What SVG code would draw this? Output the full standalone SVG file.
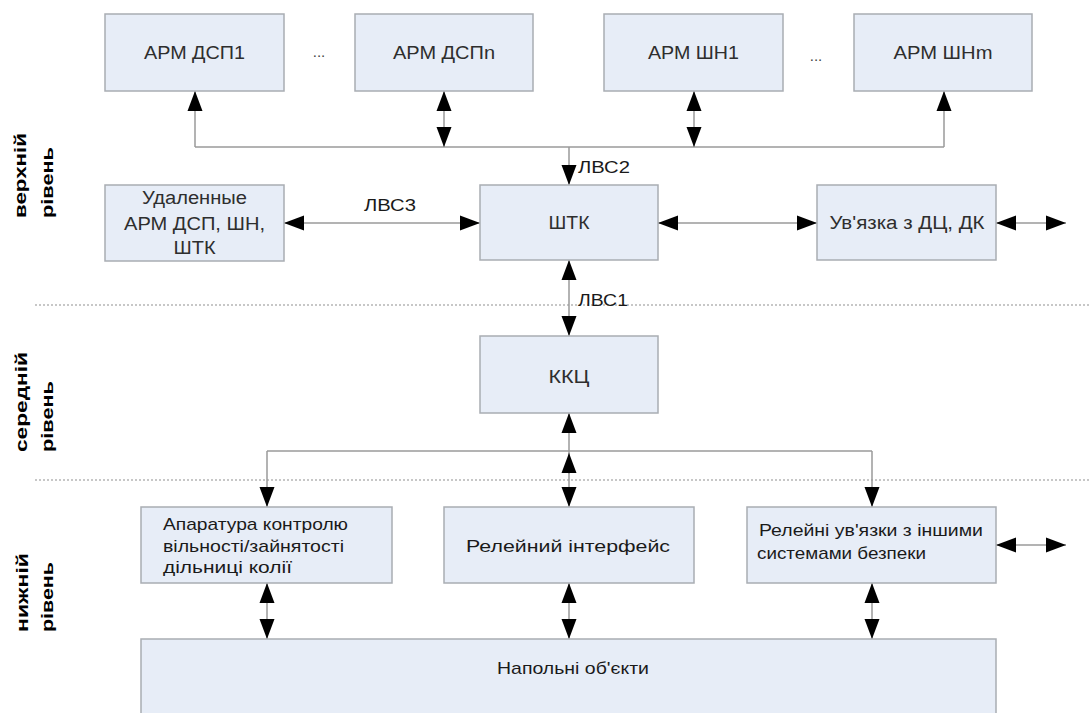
<svg xmlns="http://www.w3.org/2000/svg" width="1089" height="713" viewBox="0 0 1089 713">
<style>
.box{fill:#e7edf7;stroke:#a9adb3;stroke-width:1.5}
.t{font-family:"Liberation Sans",Arial,sans-serif;font-size:18px;fill:#2e2e2e;text-anchor:middle}
.tl{font-family:"Liberation Sans",Arial,sans-serif;font-size:17px;fill:#1a1a1a}
.tb{font-family:"Liberation Sans",Arial,sans-serif;font-size:17px;fill:#1a1a1a;text-anchor:middle}
.side{font-family:"Liberation Sans",Arial,sans-serif;font-size:16px;font-weight:bold;fill:#000}
.c{fill:none;stroke:#9a9a9a;stroke-width:1.5}
.a{marker-end:url(#ah)}
.aa{marker-start:url(#ah);marker-end:url(#ah)}
.dot{stroke:#b5b5b5;stroke-width:1.5;stroke-dasharray:2 2;fill:none}
.dots{font-family:"Liberation Sans",Arial,sans-serif;font-size:15px;fill:#444;text-anchor:middle}
</style>
<defs>
<marker id="ah" markerUnits="userSpaceOnUse" markerWidth="21" markerHeight="16" refX="20" refY="8" orient="auto-start-reverse" viewBox="0 0 21 16">
<path d="M0,0.5 L20,8 L0,15.5 z" fill="#000"/>
</marker>
</defs>
<rect width="1089" height="713" fill="#fff"/>

<g id="levels">
<line class="dot" x1="35" y1="305" x2="1089" y2="305"/>
<line class="dot" x1="35" y1="480" x2="1089" y2="480"/>
<text class="side" transform="translate(26,218) rotate(-90)" textLength="85" lengthAdjust="spacingAndGlyphs">верхній</text>
<text class="side" transform="translate(53,218) rotate(-90)" textLength="71" lengthAdjust="spacingAndGlyphs">рівень</text>
<text class="side" transform="translate(27,452) rotate(-90)" textLength="100" lengthAdjust="spacingAndGlyphs">середній</text>
<text class="side" transform="translate(53,452) rotate(-90)" textLength="71" lengthAdjust="spacingAndGlyphs">рівень</text>
<text class="side" transform="translate(28,632) rotate(-90)" textLength="79" lengthAdjust="spacingAndGlyphs">нижній</text>
<text class="side" transform="translate(53,632) rotate(-90)" textLength="70" lengthAdjust="spacingAndGlyphs">рівень</text>
</g>

<g id="connectors">
<line class="c" x1="195" y1="147" x2="944" y2="147"/>
<line class="c a" x1="195" y1="147" x2="195" y2="91"/>
<line class="c aa" x1="444" y1="147" x2="444" y2="91"/>
<line class="c aa" x1="694" y1="147" x2="694" y2="91"/>
<line class="c a" x1="944" y1="147" x2="944" y2="91"/>
<line class="c a" x1="569" y1="147" x2="569" y2="185"/>
<line class="c aa" x1="284" y1="223" x2="480" y2="223"/>
<line class="c aa" x1="658" y1="223" x2="817" y2="223"/>
<line class="c aa" x1="996" y1="223" x2="1066" y2="223"/>
<line class="c aa" x1="569" y1="260" x2="569" y2="336"/>
<line class="c aa" x1="569" y1="413" x2="569" y2="507"/>
<line class="c a" x1="569" y1="474" x2="569" y2="453"/>
<line class="c" x1="267" y1="451" x2="872" y2="451"/>
<line class="c a" x1="267" y1="451" x2="267" y2="507"/>
<line class="c a" x1="872" y1="451" x2="872" y2="507"/>
<line class="c aa" x1="267" y1="583" x2="267" y2="639"/>
<line class="c aa" x1="569" y1="583" x2="569" y2="639"/>
<line class="c aa" x1="872" y1="583" x2="872" y2="639"/>
<line class="c aa" x1="996" y1="545" x2="1066" y2="545"/>
<text class="tb" x="390" y="211" textLength="52" lengthAdjust="spacingAndGlyphs">ЛВС3</text>
<text class="tl" x="578" y="173" textLength="52" lengthAdjust="spacingAndGlyphs">ЛВС2</text>
<text class="tl" x="578" y="306" textLength="50" lengthAdjust="spacingAndGlyphs">ЛВС1</text>
<text class="dots" x="319" y="57">...</text>
<text class="dots" x="816" y="61">...</text>
</g>

<g id="arm-dsp1">
<rect class="box" x="105" y="14" width="179" height="77"/>
<text class="t" x="194.5" y="59" textLength="101" lengthAdjust="spacingAndGlyphs">АРМ ДСП1</text>
</g>
<g id="arm-dspn">
<rect class="box" x="355" y="14" width="178" height="77"/>
<text class="t" x="444" y="59" textLength="102" lengthAdjust="spacingAndGlyphs">АРМ ДСПn</text>
</g>
<g id="arm-shn1">
<rect class="box" x="604" y="14" width="179" height="77"/>
<text class="t" x="693.5" y="59" textLength="91" lengthAdjust="spacingAndGlyphs">АРМ ШН1</text>
</g>
<g id="arm-shnm">
<rect class="box" x="854" y="14" width="178" height="77"/>
<text class="t" x="943" y="59" textLength="99" lengthAdjust="spacingAndGlyphs">АРМ ШНm</text>
</g>
<g id="remote">
<rect class="box" x="105" y="185" width="179" height="76"/>
<text class="t" x="194.5" y="204" textLength="105" lengthAdjust="spacingAndGlyphs">Удаленные</text>
<text class="t" x="194.5" y="230" textLength="141" lengthAdjust="spacingAndGlyphs">АРМ ДСП, ШН,</text>
<text class="t" x="194.5" y="254" textLength="42" lengthAdjust="spacingAndGlyphs">ШТК</text>
</g>
<g id="shtk">
<rect class="box" x="480" y="185" width="178" height="75"/>
<text class="t" x="569" y="229" textLength="41" lengthAdjust="spacingAndGlyphs">ШТК</text>
</g>
<g id="uvyazka">
<rect class="box" x="817" y="185" width="179" height="75"/>
<text class="t" x="907" y="229" textLength="155" lengthAdjust="spacingAndGlyphs">Ув'язка з ДЦ, ДК</text>
</g>
<g id="kkc">
<rect class="box" x="480" y="336" width="178" height="77"/>
<text class="t" x="569" y="383" textLength="41" lengthAdjust="spacingAndGlyphs">ККЦ</text>
</g>
<g id="aparatura">
<rect class="box" x="141" y="507" width="251" height="76"/>
<text class="tl" x="163" y="530" textLength="185" lengthAdjust="spacingAndGlyphs">Апаратура контролю</text>
<text class="tl" x="163" y="552" textLength="181" lengthAdjust="spacingAndGlyphs">вільності/зайнятості</text>
<text class="tl" x="163" y="573" textLength="129" lengthAdjust="spacingAndGlyphs">дільниці колії</text>
</g>
<g id="releinyi">
<rect class="box" x="444" y="507" width="250" height="76"/>
<text class="tb" x="568" y="552" textLength="204" lengthAdjust="spacingAndGlyphs">Релейний інтерфейс</text>
</g>
<g id="releini-uvyazky">
<rect class="box" x="747" y="507" width="249" height="76"/>
<text class="tl" x="759" y="536" textLength="224" lengthAdjust="spacingAndGlyphs">Релейні ув'язки з іншими</text>
<text class="tl" x="757" y="559" textLength="169" lengthAdjust="spacingAndGlyphs">системами безпеки</text>
</g>
<g id="napolni">
<rect class="box" x="141" y="639" width="855" height="75"/>
<text class="tb" x="573" y="674" textLength="152" lengthAdjust="spacingAndGlyphs">Напольні об'єкти</text>
</g>
</svg>
